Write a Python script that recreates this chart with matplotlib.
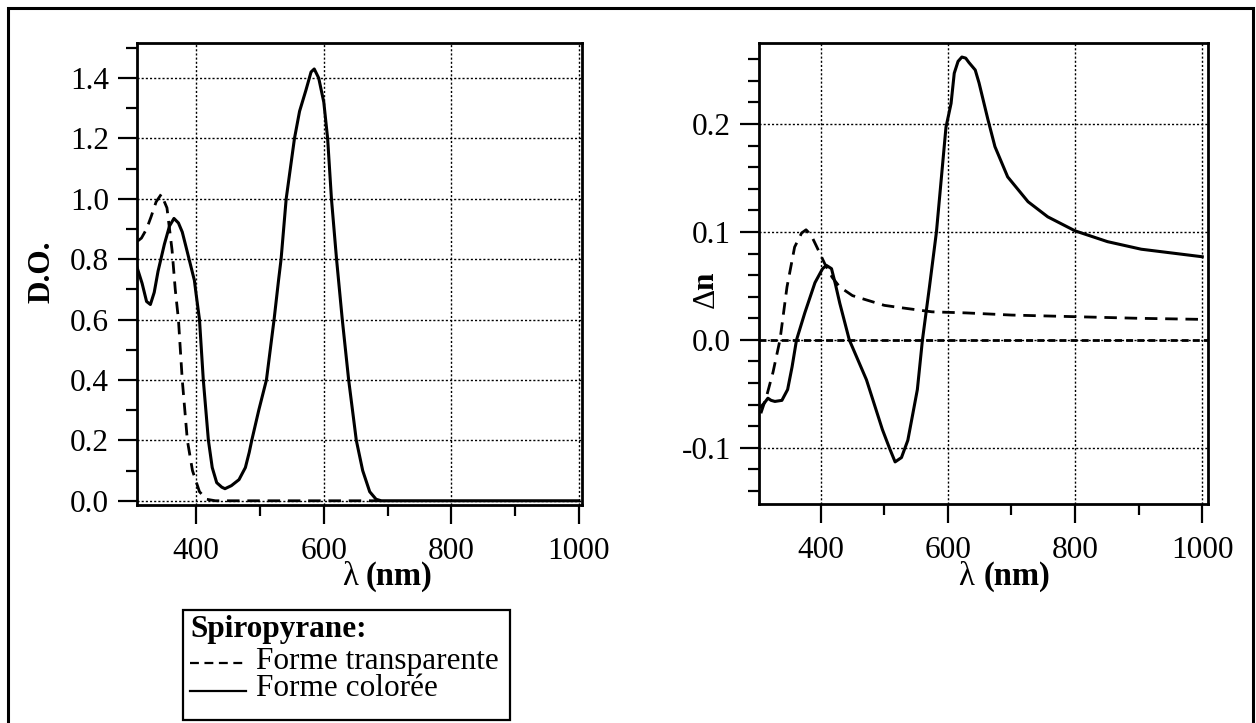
import matplotlib
matplotlib.use("Agg")
import matplotlib.pyplot as plt
from matplotlib.patches import Rectangle
from matplotlib.lines import Line2D
from matplotlib.ticker import MultipleLocator, FormatStrFormatter

# ---------------- data ----------------
# Left panel: optical density (D.O.)
lam_do_transp = [308, 314, 322, 329, 337, 345, 354, 362, 367, 372, 378, 386, 394, 405, 416, 430, 500, 600, 690]
do_transp = [0.86, 0.87, 0.90, 0.94, 0.99, 1.015, 0.97, 0.83, 0.70, 0.60, 0.40, 0.20, 0.10, 0.03, 0.005, 0.0, 0.0, 0.0, 0.0]

lam_do_color = [306, 315, 322, 328, 334, 340, 350, 358, 365, 372, 378, 384, 397, 400, 405, 411, 419, 425,
                432, 440, 445, 455, 467, 477, 483, 487, 498, 510, 522, 529, 533, 541, 554, 562, 572, 580,
                585, 592, 600, 606, 612, 620, 629, 639, 651, 661, 672, 682, 690, 800, 1000]
do_color = [0.78, 0.72, 0.66, 0.65, 0.69, 0.76, 0.85, 0.91, 0.935, 0.92, 0.89, 0.84, 0.73, 0.68, 0.60, 0.40,
            0.20, 0.11, 0.06, 0.045, 0.04, 0.05, 0.07, 0.11, 0.16, 0.20, 0.30, 0.40, 0.60, 0.73, 0.80, 1.00,
            1.20, 1.29, 1.36, 1.42, 1.43, 1.40, 1.32, 1.20, 1.00, 0.80, 0.60, 0.40, 0.20, 0.10, 0.03, 0.005,
            0.0, 0.0, 0.0]

# Right panel: refractive index change (Delta n)
lam_dn_transp = [306, 315, 325, 336, 347, 359, 370, 377, 385, 394, 406, 418, 430, 450, 472, 500, 524, 575,
                 629, 700, 800, 900, 1000]
dn_transp = [-0.068, -0.052, -0.030, 0.0, 0.049, 0.086, 0.099, 0.102, 0.097, 0.086, 0.071, 0.058, 0.049,
             0.041, 0.037, 0.032, 0.030, 0.026, 0.025, 0.023, 0.0215, 0.020, 0.019]

lam_dn_color = [306, 312, 317, 322, 328, 339, 348, 355, 362, 375, 391, 403, 409, 417, 423, 430, 445, 472,
                497, 508, 517, 527, 537, 545, 552, 560, 571, 582, 597, 605, 610, 616, 622, 628, 633, 643,
                649, 663, 674, 694, 726, 757, 800, 851, 904, 1000]
dn_color = [-0.062, -0.058, -0.054, -0.056, -0.057, -0.056, -0.046, -0.025, 0.0, 0.025, 0.053, 0.066, 0.069,
            0.066, 0.052, 0.034, 0.0, -0.037, -0.083, -0.100, -0.113, -0.109, -0.093, -0.068, -0.046, 0.0,
            0.049, 0.100, 0.197, 0.219, 0.247, 0.258, 0.262, 0.261, 0.257, 0.250, 0.238, 0.204, 0.179,
            0.151, 0.128, 0.114, 0.101, 0.091, 0.084, 0.077]

x_ticks = [400, 600, 800, 1000]
legend_title = "Spiropyrane:"
legend_labels = ["Forme transparente", "Forme colorée"]

# ---------------- style ----------------
W, H = 1256, 723
plt.rcParams['font.family'] = ['Liberation Serif', 'DejaVu Serif']
FS = 22.5

fig = plt.figure(figsize=(W / 100, H / 100), dpi=100)
fig.patch.set_facecolor('white')


def fx(px):
    return px / W


def fy(py):
    return 1 - py / H


def style_axes(ax, xlim, ylim, ymaj, ymin):
    ax.set_xlim(*xlim)
    ax.set_ylim(*ylim)
    ax.xaxis.set_major_locator(MultipleLocator(200))
    ax.xaxis.set_minor_locator(MultipleLocator(100))
    ax.yaxis.set_major_locator(MultipleLocator(ymaj))
    ax.yaxis.set_minor_locator(MultipleLocator(ymin))
    ax.yaxis.set_major_formatter(FormatStrFormatter('%.1f'))
    ax.tick_params(which='major', direction='out', length=14, width=1.6, labelsize=FS, pad=6,
                   top=False, right=False)
    ax.tick_params(which='minor', direction='out', length=8, width=1.6, top=False, right=False)
    ax.tick_params(axis='x', which='major', pad=9)
    for s in ax.spines.values():
        s.set_linewidth(2)
    ax.grid(True, which='major', color='black', linestyle=(0, (1.5, 1.5)), linewidth=1.0)
    ax.set_axisbelow(True)


# Left axes
ax1 = fig.add_axes([fx(137), fy(505), fx(582) - fx(137), fy(43) - fy(505)])
style_axes(ax1, (307, 1005), (-0.014, 1.516), 0.2, 0.1)
ax1.set_xticks(x_ticks)
ax1.plot(lam_do_transp, do_transp, color='black', lw=2.0, dashes=(4.5, 2.8))
ax1.plot(lam_do_color, do_color, color='black', lw=2.2)

# Right axes
ax2 = fig.add_axes([fx(759), fy(504), fx(1208) - fx(759), fy(43) - fy(504)])
style_axes(ax2, (303, 1009), (-0.152, 0.275), 0.1, 0.02)
ax2.set_xticks(x_ticks)
ax2.axhline(0.0, color='black', lw=2.0, dashes=(2.5, 1.5), zorder=1.5)
ax2.plot(lam_dn_transp, dn_transp, color='black', lw=2.0, dashes=(4.5, 2.8))
ax2.plot(lam_dn_color, dn_color, color='black', lw=2.2)

# Axis labels
fig.text(fx(358), fy(577), "λ", fontsize=FS + 1, ha='right', va='center')
fig.text(fx(366), fy(577), "(nm)", fontsize=FS + 1, ha='left', va='center', weight='bold')
fig.text(fx(974), fy(577), "λ", fontsize=FS + 1, ha='right', va='center')
fig.text(fx(984), fy(577), "(nm)", fontsize=FS + 1, ha='left', va='center', weight='bold')
fig.text(fx(42), fy(272), "D.O.", fontsize=FS, ha='center', va='center', rotation=90, weight='bold')
fig.text(fx(706), fy(298), "Δ", fontsize=FS, ha='center', va='center', rotation=90)
fig.text(fx(706), fy(281), "n", fontsize=FS, ha='center', va='center', rotation=90, weight='bold')

# Outer frame
fig.add_artist(Rectangle((fx(8), -0.05), fx(1253) - fx(8), fy(8) + 0.05, transform=fig.transFigure,
                         fill=False, edgecolor='black', lw=2.2))

# Legend box
fig.add_artist(Rectangle((fx(183), fy(720)), fx(510) - fx(183), fy(610) - fy(720),
                         transform=fig.transFigure, fill=False, edgecolor='black', lw=1.6))
fig.text(fx(190), fy(630), legend_title, fontsize=FS, ha='left', va='center', weight='bold')
fig.add_artist(Line2D([fx(190), fx(246)], [fy(663), fy(663)], transform=fig.transFigure,
                      color='black', lw=1.6, dashes=(4, 2.5)))
fig.text(fx(256), fy(661), legend_labels[0], fontsize=FS, ha='left', va='center')
fig.add_artist(Line2D([fx(190), fx(246)], [fy(691), fy(691)], transform=fig.transFigure,
                      color='black', lw=1.6))
fig.text(fx(256), fy(689), legend_labels[1], fontsize=FS, ha='left', va='center')

fig.savefig("out.png", dpi=100, facecolor='white')
